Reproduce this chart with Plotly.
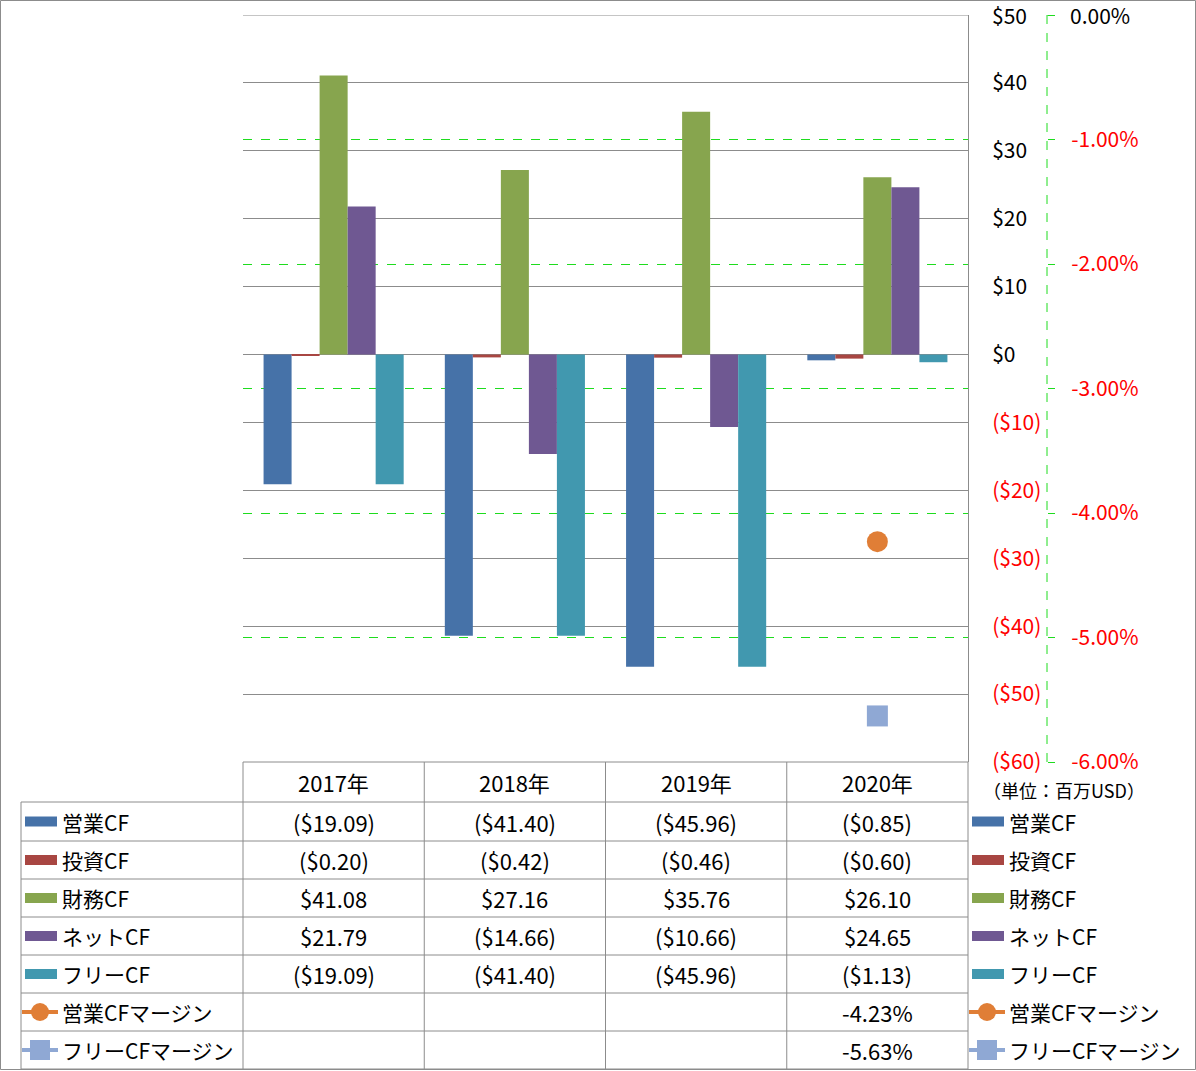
import plotly.graph_objects as go

W, H = 1196, 1071

years = ["2017年", "2018年", "2019年", "2020年"]
series_names = ["営業CF", "投資CF", "財務CF", "ネットCF", "フリーCF"]
eigyo_cf = [-19.09, -41.40, -45.96, -0.85]
toushi_cf = [-0.20, -0.42, -0.46, -0.60]
zaimu_cf = [41.08, 27.16, 35.76, 26.10]
net_cf = [21.79, -14.66, -10.66, 24.65]
free_cf = [-19.09, -41.40, -45.96, -1.13]
margin_names = ["営業CFマージン", "フリーCFマージン"]
eigyo_margin = [None, None, None, -4.23]
free_margin = [None, None, None, -5.63]

bar_colors = ["#4672A8", "#A84642", "#87A54E", "#6F5892", "#4198AF"]
margin_colors = ["#E07E36", "#8FA8D4"]

left_ticks = [50, 40, 30, 20, 10, 0, -10, -20, -30, -40, -50, -60]
right_ticks = [0, -1, -2, -3, -4, -5, -6]

FONT = "Noto Sans CJK JP"
GRID = "#8C8C8C"
GREEN = "#1EDC1E"


def px(x):
    return x / W


def py(y):
    return 1 - y / H


def money(v):
    if v < 0:
        return "(${:.2f})".format(-v)
    return "${:.2f}".format(v)


def money_tick(v):
    if v < 0:
        return "<span style='color:#FF0000'>(${})</span>".format(-v)
    return "${}".format(v)


def pct_tick(v):
    if v < 0:
        return "<span style='color:#FF0000'>{:.2f}%</span>".format(v)
    return "{:.2f}%".format(v)


# plot area geometry
X0, X1 = 243, 968
Y0, Y1 = 15, 762
AX2 = 1047

fig = go.Figure()
bar_series = [eigyo_cf, toushi_cf, zaimu_cf, net_cf, free_cf]
for name, vals, col in zip(series_names, bar_series, bar_colors):
    fig.add_trace(go.Bar(x=years, y=vals, name=name, marker=dict(color=col, line=dict(width=0))))

fig.add_trace(go.Scatter(x=years, y=eigyo_margin, name=margin_names[0], yaxis="y2", mode="markers",
                         marker=dict(symbol="circle", size=21, color=margin_colors[0])))
fig.add_trace(go.Scatter(x=years, y=free_margin, name=margin_names[1], yaxis="y2", mode="markers",
                         marker=dict(symbol="square", size=21, color=margin_colors[1])))

shapes = []
annotations = []

TFS = 21
NFS = 22

# outer border
shapes.append(dict(type="rect", xref="paper", yref="paper", x0=px(0.5), x1=px(W - 0.5), y0=py(H - 1.5), y1=py(0.5),
                   line=dict(color=GRID, width=1)))
# top gridline ($50)
shapes.append(dict(type="line", xref="paper", yref="y", x0=px(X0), x1=px(X1), y0=left_ticks[0], y1=left_ticks[0],
                   line=dict(color=GRID, width=1)))
# right axis dashed line
shapes.append(dict(type="line", xref="paper", yref="paper", x0=px(AX2), x1=px(AX2), y0=py(Y0), y1=py(Y1),
                   line=dict(color=GREEN, width=1, dash="dash")))
# top tick on right axis
shapes.append(dict(type="line", xref="paper", yref="y2", x0=px(AX2), x1=px(AX2 + 7), y0=right_ticks[0], y1=right_ticks[0],
                   line=dict(color=GREEN, width=1)))
# top tick labels (boundary labels)
annotations.append(dict(x=px(990), y=left_ticks[0], xref="paper", yref="y", text=money_tick(left_ticks[0]),
                        showarrow=False, font=dict(family=FONT, size=TFS, color="black"),
                        xanchor="left", yanchor="middle"))
annotations.append(dict(x=px(1068), y=right_ticks[0], xref="paper", yref="y2", text=pct_tick(right_ticks[0]),
                        showarrow=False, font=dict(family=FONT, size=TFS, color="black"),
                        xanchor="left", yanchor="middle"))

# data table
row_tops = [762, 802, 841, 879, 917, 955, 993, 1031, 1069]
col_w = (X1 - X0) / len(years)
col_edges = [X0 + i * col_w for i in range(len(years) + 1)]
LBL_X0 = 21
for i, yy in enumerate(row_tops):
    xa = X0 if i == 0 else LBL_X0
    shapes.append(dict(type="line", xref="paper", yref="paper", x0=px(xa), x1=px(X1), y0=py(yy), y1=py(yy),
                       line=dict(color=GRID, width=1)))
for xx in col_edges:
    shapes.append(dict(type="line", xref="paper", yref="paper", x0=px(xx), x1=px(xx), y0=py(Y1), y1=py(row_tops[-1]),
                       line=dict(color=GRID, width=1)))
shapes.append(dict(type="line", xref="paper", yref="paper", x0=px(LBL_X0), x1=px(LBL_X0), y0=py(row_tops[1]), y1=py(row_tops[-1]),
                   line=dict(color=GRID, width=1)))

for j, yr in enumerate(years):
    cx = (col_edges[j] + col_edges[j + 1]) / 2
    annotations.append(dict(x=px(cx), y=py((row_tops[0] + row_tops[1]) / 2), xref="paper", yref="paper",
                            text=yr, showarrow=False, font=dict(family=FONT, size=NFS, color="black"),
                            xanchor="center", yanchor="middle"))

all_rows = [(n, v, c, "bar") for n, v, c in zip(series_names, bar_series, bar_colors)]
all_rows.append((margin_names[0], eigyo_margin, margin_colors[0], "circle"))
all_rows.append((margin_names[1], free_margin, margin_colors[1], "square"))


def legend_key(xl, cy, col, kind):
    if kind == "bar":
        shapes.append(dict(type="rect", xref="paper", yref="paper", x0=px(xl + 3), x1=px(xl + 35),
                           y0=py(cy + 5), y1=py(cy - 5), fillcolor=col, line=dict(width=0)))
    else:
        shapes.append(dict(type="line", xref="paper", yref="paper", x0=px(xl), x1=px(xl + 36),
                           y0=py(cy), y1=py(cy), line=dict(color=col, width=4)))
        if kind == "circle":
            shapes.append(dict(type="circle", xref="paper", yref="paper", x0=px(xl + 9), x1=px(xl + 27),
                               y0=py(cy + 9), y1=py(cy - 9), fillcolor=col, line=dict(width=0)))
        else:
            shapes.append(dict(type="rect", xref="paper", yref="paper", x0=px(xl + 8), x1=px(xl + 28),
                               y0=py(cy + 10), y1=py(cy - 10), fillcolor=col, line=dict(width=0)))


for i, (name, vals, col, kind) in enumerate(all_rows):
    cy = (row_tops[i + 1] + row_tops[i + 2]) / 2
    legend_key(22, cy, col, kind)
    annotations.append(dict(x=px(60), y=py(cy), xref="paper", yref="paper", text=name, showarrow=False,
                            font=dict(family=FONT, size=TFS, color="black"), xanchor="left", yanchor="middle"))
    legend_key(969, cy, col, kind)
    annotations.append(dict(x=px(1007), y=py(cy), xref="paper", yref="paper", text=name, showarrow=False,
                            font=dict(family=FONT, size=TFS, color="black"), xanchor="left", yanchor="middle"))
    for j, v in enumerate(vals):
        if v is None:
            continue
        txt = "{:.2f}%".format(v) if kind != "bar" else money(v)
        cx = (col_edges[j] + col_edges[j + 1]) / 2
        annotations.append(dict(x=px(cx), y=py(cy), xref="paper", yref="paper", text=txt, showarrow=False,
                                font=dict(family=FONT, size=NFS, color="black"), xanchor="center", yanchor="middle"))

annotations.append(dict(x=px(981), y=py(790), xref="paper", yref="paper", text="（単位：百万USD）", showarrow=False,
                        font=dict(family=FONT, size=18, color="black"), xanchor="left", yanchor="middle"))

fig.update_layout(
    width=W, height=H,
    margin=dict(l=0, r=0, t=0, b=0, pad=0, autoexpand=False),
    paper_bgcolor="white", plot_bgcolor="white",
    showlegend=False,
    barmode="group", bargap=0.227, bargroupgap=0,
    font=dict(family=FONT, size=TFS, color="black"),
    xaxis=dict(domain=[px(X0), px(X1)], showticklabels=False, showgrid=False, zeroline=False,
               showline=False, ticks="", automargin=False),
    yaxis=dict(domain=[py(Y1), py(Y0)], range=[-60, 50], side="right",
               tickvals=left_ticks, ticktext=[money_tick(v) for v in left_ticks],
               showgrid=True, gridcolor=GRID, gridwidth=1, zeroline=False,
               showline=True, linecolor=GRID, linewidth=1, ticks="", automargin=False,
               ticklabelstandoff=19, tickfont=dict(family=FONT, size=TFS, color="black")),
    yaxis2=dict(overlaying="y", anchor="free", position=px(AX2), side="right", range=[-6, 0],
                tickvals=right_ticks, ticktext=[pct_tick(v) for v in right_ticks],
                showgrid=True, gridcolor=GREEN, griddash="dash", gridwidth=1, zeroline=False,
                showline=False, ticks="outside", ticklen=7, tickcolor=GREEN, tickwidth=1, automargin=False,
                ticklabelstandoff=12, tickfont=dict(family=FONT, size=TFS, color="black")),
    shapes=shapes,
    annotations=annotations,
)

fig.write_html("out.html")
